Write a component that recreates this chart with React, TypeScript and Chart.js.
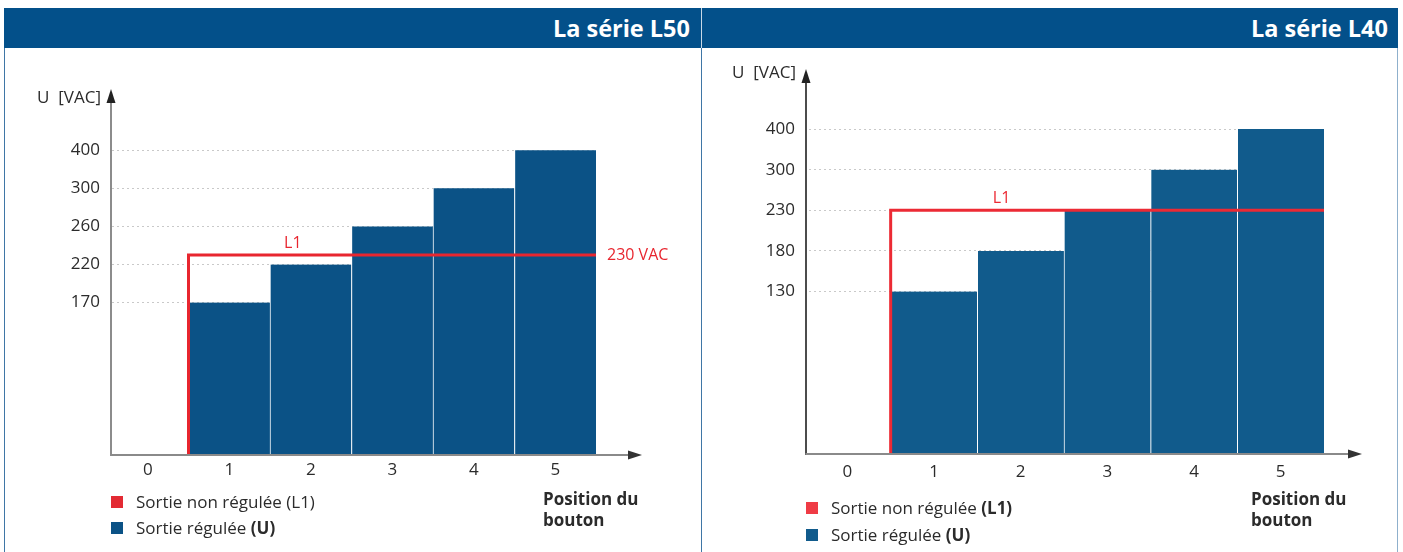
import React, { useEffect, useRef } from "react";
import { Chart, registerables } from "chart.js";

Chart.register(...registerables);

// ---------- data ----------
const positions = ["0", "1", "2", "3", "4", "5"];

const l50TickLabels = [170, 220, 260, 300, 400];
const l50Regulated = [null, 170, 220, 260, 300, 400];
const l50Unregulated = 230;

const l40TickLabels = [130, 180, 230, 300, 400];
const l40Regulated = [null, 130, 180, 230, 300, 400];
const l40Unregulated = 230;

// schematic (non-linear) voltage axis: first labelled tick sits 4 steps above 0
const FIRST_TICK_STEP = 4;

const FONT = "'Open Sans', 'DejaVu Sans', sans-serif";
const HEADER = "#03508a";
const TEXT = "#2b2b2b";

function makeMapper(ticks: number[]) {
  const vals = [0, ...ticks];
  const pos = [0, ...ticks.map((_, i) => FIRST_TICK_STEP + i)];
  return (v: number | null) => {
    if (v == null) return null;
    for (let i = 1; i < vals.length; i++) {
      if (v <= vals[i]) {
        const t = (v - vals[i - 1]) / (vals[i] - vals[i - 1]);
        return pos[i - 1] + t * (pos[i] - pos[i - 1]);
      }
    }
    return pos[pos.length - 1];
  };
}

type PanelCfg = {
  ticks: number[];
  values: (number | null)[];
  l1: number;
  l1Text: string | null;
  barColor: string;
  redColor: string;
  yAxisColor: string;
  width: number;
  height: number;
  yAxisWidth: number;
  yLineOffset: number;
  xAxisHeight: number;
  padRight: number;
  padTop: number;
  yMax: number;
  yTip: number;
  xTip: number;
  xTickPad: number;
  yTickPad: number;
};

function buildChart(canvas: HTMLCanvasElement, cfg: PanelCfg) {
  const map = makeMapper(cfg.ticks);
  const l1Pos = map(cfg.l1) as number;

  const axesPlugin = {
    id: "axesArrows",
    beforeDatasetsDraw(chart: any) {
      const { ctx, chartArea } = chart;
      ctx.save();
      ctx.fillStyle = "#ffffff";
      ctx.fillRect(chartArea.left - 1, chartArea.top - 2, cfg.yLineOffset + 1, chartArea.bottom - chartArea.top + 4);
      ctx.restore();
    },
    afterDraw(chart: any) {
      const { ctx, chartArea } = chart;
      const left = chartArea.left + cfg.yLineOffset;
      const bottom = chartArea.bottom;
      const x2 = chart.scales.x2;
      const y = chart.scales.y;
      ctx.save();
      // y axis
      ctx.strokeStyle = cfg.yAxisColor;
      ctx.lineWidth = 1.5;
      ctx.beginPath();
      ctx.moveTo(left, bottom + 1);
      ctx.lineTo(left, cfg.yTip + 10);
      ctx.stroke();
      ctx.fillStyle = "#222";
      ctx.beginPath();
      ctx.moveTo(left, cfg.yTip);
      ctx.lineTo(left - 4.5, cfg.yTip + 14);
      ctx.lineTo(left + 4.5, cfg.yTip + 14);
      ctx.closePath();
      ctx.fill();
      // x axis
      ctx.strokeStyle = "#8a8a8a";
      ctx.lineWidth = 2;
      ctx.beginPath();
      ctx.moveTo(left - 0.5, bottom);
      ctx.lineTo(cfg.xTip - 10, bottom);
      ctx.stroke();
      ctx.fillStyle = "#333";
      ctx.beginPath();
      ctx.moveTo(cfg.xTip, bottom);
      ctx.lineTo(cfg.xTip - 14, bottom - 4.5);
      ctx.lineTo(cfg.xTip - 14, bottom + 4.5);
      ctx.closePath();
      ctx.fill();
      // L1 labels
      const ly = y.getPixelForValue(l1Pos);
      ctx.fillStyle = cfg.redColor;
      ctx.font = `16px ${FONT}`;
      ctx.textAlign = "center";
      ctx.textBaseline = "middle";
      ctx.fillText("L1", x2.getPixelForValue(1.78), ly - 12);
      if (cfg.l1Text) {
        ctx.textAlign = "left";
        ctx.fillText(cfg.l1Text, x2.getPixelForValue(5.5) + 11, ly);
      }
      ctx.restore();
    },
  };

  return new Chart(canvas, {
    type: "bar",
    data: {
      labels: positions,
      datasets: [
        {
          type: "line",
          label: "Sortie non régulée (L1)",
          data: [
            { x: 0.5, y: 0 },
            { x: 0.5, y: l1Pos },
            { x: 5.5, y: l1Pos },
          ],
          xAxisID: "x2",
          yAxisID: "y",
          borderColor: cfg.redColor,
          borderWidth: 3,
          pointRadius: 0,
          fill: false,
          tension: 0,
          borderJoinStyle: "miter",
          order: 0,
        } as any,
        {
          type: "bar",
          label: "Sortie régulée (U)",
          data: cfg.values.map((v) => map(v)),
          backgroundColor: cfg.barColor,
          borderColor: "#ffffff",
          borderWidth: { left: 1, right: 0, top: 0, bottom: 0 },
          borderSkipped: false,
          grouped: false,
          barPercentage: 1,
          categoryPercentage: 1,
          xAxisID: "x",
          yAxisID: "y",
          order: 1,
        } as any,
      ],
    },
    options: {
      responsive: false,
      maintainAspectRatio: false,
      animation: false,
      layout: { padding: { left: 0, right: cfg.padRight, top: cfg.padTop, bottom: 0 } },
      plugins: { legend: { display: false }, tooltip: { enabled: false } },
      scales: {
        x: {
          type: "category",
          offset: true,
          grid: { display: false, drawTicks: false },
          border: { display: false },
          ticks: { color: TEXT, font: { family: FONT, size: 17 }, padding: cfg.xTickPad, maxRotation: 0 },
          afterFit: (s: any) => {
            s.height = cfg.xAxisHeight;
          },
        },
        x2: { type: "linear", display: false, offset: false, min: -0.5, max: 5.5, grid: { offset: false } },
        y: {
          type: "linear",
          min: 0,
          max: cfg.yMax,
          afterBuildTicks: (s: any) => {
            s.ticks = cfg.ticks.map((_, i) => ({ value: FIRST_TICK_STEP + i }));
          },
          ticks: {
            color: TEXT,
            font: { family: FONT, size: 17 },
            padding: cfg.yTickPad,
            callback: (v: any) => {
              const i = Math.round(Number(v)) - FIRST_TICK_STEP;
              return cfg.ticks[i] != null ? String(cfg.ticks[i]) : "";
            },
          },
          grid: { color: "#c9c9c9", lineWidth: 1, drawTicks: false },
          border: { display: false, dash: [2, 3] },
          afterFit: (s: any) => {
            s.width = cfg.yAxisWidth;
          },
        },
      },
    } as any,
    plugins: [axesPlugin],
  });
}

function Panel({ cfg, style }: { cfg: PanelCfg; style: React.CSSProperties }) {
  const ref = useRef<HTMLCanvasElement>(null);
  useEffect(() => {
    if (!ref.current) return;
    const c = buildChart(ref.current, cfg);
    return () => c.destroy();
  }, []);
  return (
    <canvas
      ref={ref}
      width={cfg.width}
      height={cfg.height}
      style={{ position: "absolute", width: cfg.width, height: cfg.height, ...style }}
    />
  );
}

const leftCfg: PanelCfg = {
  ticks: l50TickLabels,
  values: l50Regulated,
  l1: l50Unregulated,
  l1Text: "230 VAC",
  barColor: "#0b5286",
  redColor: "#e8262f",
  yAxisColor: "#666",
  width: 700,
  height: 504,
  yAxisWidth: 107,
  yLineOffset: 4,
  xAxisHeight: 97,
  padRight: 104,
  padTop: 55,
  yMax: 9.24,
  yTip: 41,
  xTip: 642,
  xTickPad: 5,
  yTickPad: 7,
};

const rightCfg: PanelCfg = {
  ticks: l40TickLabels,
  values: l40Regulated,
  l1: l40Unregulated,
  l1Text: null,
  barColor: "#115b8c",
  redColor: "#ec2a34",
  yAxisColor: "#111",
  width: 698,
  height: 504,
  yAxisWidth: 102,
  yLineOffset: 2,
  xAxisHeight: 98,
  padRight: 76,
  padTop: 36,
  yMax: 9.11,
  yTip: 21,
  xTip: 660,
  xTickPad: 8,
  yTickPad: 9,
};

const abs = (s: React.CSSProperties): React.CSSProperties => ({ position: "absolute", ...s });

function Legend({ x, y1, y2, red, blue, boldL1 }: { x: number; y1: number; y2: number; red: string; blue: string; boldL1: boolean }) {
  const txt: React.CSSProperties = { fontSize: 17, color: TEXT, whiteSpace: "nowrap", lineHeight: "20px" };
  return (
    <>
      <div style={abs({ left: x, top: y1 - 6, width: 12, height: 12, background: red })} />
      <div style={abs({ left: x + 25, top: y1 - 10, ...txt })}>
        Sortie non régulée {boldL1 ? <b>(L1)</b> : "(L1)"}
      </div>
      <div style={abs({ left: x, top: y2 - 6, width: 12, height: 12, background: blue })} />
      <div style={abs({ left: x + 25, top: y2 - 10, ...txt })}>
        Sortie régulée <b>(U)</b>
      </div>
    </>
  );
}

export default function App() {
  const title: React.CSSProperties = { top: 8, height: 40, lineHeight: "40px", color: "#fff", fontWeight: 700, fontSize: 23.5, whiteSpace: "nowrap" };
  const unit: React.CSSProperties = { fontSize: 17, color: TEXT, lineHeight: "20px", whiteSpace: "pre" };
  const posLbl: React.CSSProperties = { top: 488, fontSize: 17, fontWeight: 700, color: TEXT, lineHeight: "21px" };
  return (
    <div
      style={{
        position: "fixed",
        left: 0,
        top: 0,
        width: 1403,
        height: 552,
        background: "#fff",
        fontFamily: FONT,
        overflow: "hidden",
      }}
    >
      <Panel cfg={leftCfg} style={{ left: 0, top: 48 }} />
      <Panel cfg={rightCfg} style={{ left: 702, top: 48 }} />

      {/* frame */}
      <div style={abs({ left: 4, top: 8, width: 1394, height: 40, background: HEADER })} />
      <div style={abs({ left: 4, top: 48, width: 1, height: 504, background: "#3f76a6" })} />
      <div style={abs({ left: 701, top: 8, width: 1, height: 40, background: "#c9d8e6" })} />
      <div style={abs({ left: 701, top: 48, width: 1, height: 504, background: "#3f76a6" })} />
      <div style={abs({ left: 1397, top: 48, width: 1, height: 504, background: "#8fb0cc" })} />

      <div style={abs({ right: 1403 - 690, ...title })}>La série L50</div>
      <div style={abs({ right: 1403 - 1388, ...title })}>La série L40</div>

      <div style={abs({ right: 1403 - 101, top: 87, ...unit })}>{"U  [VAC]"}</div>
      <div style={abs({ right: 1403 - 796, top: 62, ...unit })}>{"U  [VAC]"}</div>

      <Legend x={111} y1={502} y2={528} red="#e32a33" blue="#0b5286" boldL1={false} />
      <Legend x={806} y1={508} y2={535} red="#ef3b45" blue="#115b8c" boldL1={true} />

      <div style={abs({ left: 543, ...posLbl })}>
        Position du
        <br />
        bouton
      </div>
      <div style={abs({ left: 1251, ...posLbl })}>
        Position du
        <br />
        bouton
      </div>
    </div>
  );
}
